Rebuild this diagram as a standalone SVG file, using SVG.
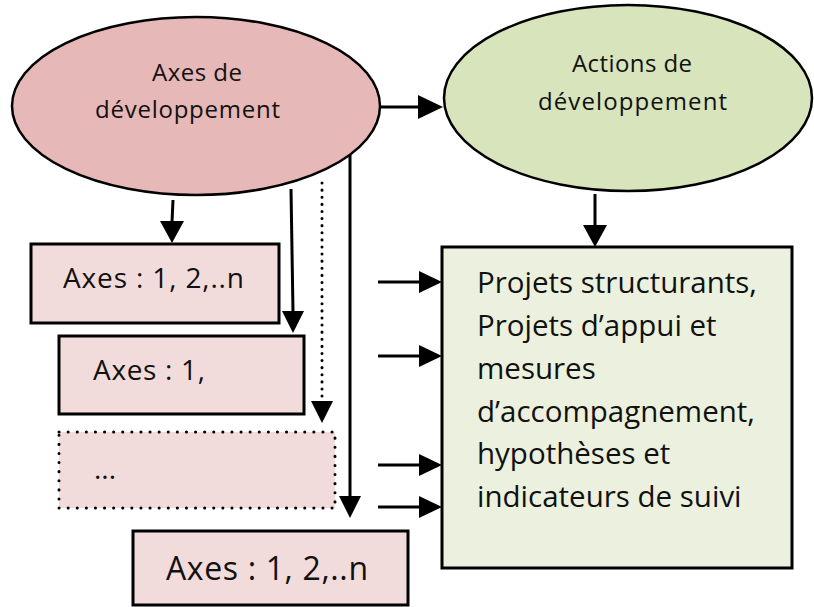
<svg xmlns="http://www.w3.org/2000/svg" width="814" height="607" viewBox="0 0 814 607">
<defs>
<style>
text{font-family:"Open Sans","DejaVu Sans",sans-serif;fill:#111;}
.ell{stroke:#000;stroke-width:2.5;}
.box{stroke:#000;stroke-width:3;}
.pink{fill:#F2DCDB;}
.green{fill:#EBF1DE;}
.ln{stroke:#000;stroke-width:3;fill:none;}
.dot{stroke:#000;stroke-width:3;fill:none;stroke-dasharray:0.1 7;stroke-linecap:round;}
.dotb{stroke:#000;stroke-width:3;stroke-dasharray:0.1 9;stroke-linecap:round;}
.el{font-size:24px;}
.big{font-size:29.5px;}
.bx{font-size:28px;}
</style>
</defs>
<g id="connectors">
<path class="ln" d="M381,107 H420"/><path d="M418,95 L443,107 L418,119 z"/>
<path class="ln" d="M595,194 V226"/><path d="M583,225 L595,247 L607,225 z"/>
<path class="ln" d="M173,200 L172,222"/><path d="M160,221 L172,243 L184,221 z"/>
<path class="ln" d="M291,189 L293,312"/><path d="M282,311 L293,333 L304,311 z"/>
<path class="dot" d="M322,183 V400"/><path d="M311,401 L322,423 L333,401 z"/>
<path class="ln" d="M350,155 V497"/><path d="M339,496 L350,518 L361,496 z"/>
<path class="ln" d="M378,282 H420"/><path d="M419,271 L442,282 L419,293 z"/>
<path class="ln" d="M378,356 H420"/><path d="M419,345 L442,356 L419,367 z"/>
<path class="ln" d="M378,465 H420"/><path d="M419,454 L442,465 L419,476 z"/>
<path class="ln" d="M378,507 H420"/><path d="M419,496 L442,507 L419,518 z"/>
</g>
<g id="axes-dev">
<ellipse class="ell" cx="196" cy="106" rx="184" ry="89" fill="#E6B8B7"/>
<text class="el" x="152" y="81" textLength="90" lengthAdjust="spacing">Axes de</text>
<text class="el" x="95" y="118" textLength="185" lengthAdjust="spacing">développement</text>
</g>
<g id="actions-dev">
<ellipse class="ell" cx="628" cy="98" rx="184" ry="93" fill="#D7E4BC"/>
<text class="el" x="572" y="72" textLength="120" lengthAdjust="spacing">Actions de</text>
<text class="el" x="538" y="110" textLength="189" lengthAdjust="spacing">développement</text>
</g>
<g id="projets">
<rect class="box green" x="442" y="247" width="350" height="321"/>
<text class="big" x="477" y="293">Projets structurants,</text>
<text class="big" x="477" y="336">Projets d’appui et</text>
<text class="big" x="477" y="379">mesures</text>
<text class="big" x="477" y="422">d’accompagnement,</text>
<text class="big" x="477" y="464">hypothèses et</text>
<text class="big" x="477" y="507">indicateurs de suivi</text>
</g>
<g id="axes1">
<rect class="box pink" x="31" y="244" width="248" height="79"/>
<text class="bx" x="63" y="288" textLength="181" lengthAdjust="spacing">Axes : 1, 2,..n</text>
</g>
<g id="axes2">
<rect class="box pink" x="59" y="336" width="245" height="78"/>
<text class="bx" x="93" y="380" textLength="112" lengthAdjust="spacing">Axes : 1,</text>
</g>
<g id="axes-etc">
<rect class="dotb pink" x="59" y="432" width="276" height="76"/>
<text class="bx" x="94" y="479" textLength="22" lengthAdjust="spacing">...</text>
</g>
<g id="axes3">
<rect class="box pink" x="133" y="531" width="275" height="74"/>
<text class="bx" x="166" y="580" style="font-size:32px" textLength="202" lengthAdjust="spacing">Axes : 1, 2,..n</text>
</g>
</svg>
